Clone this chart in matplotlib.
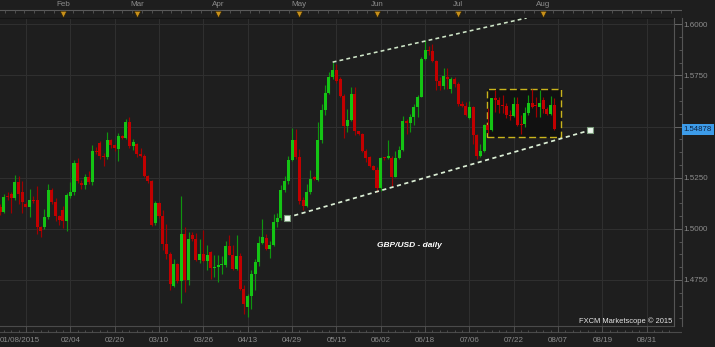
import matplotlib.pyplot as plt
from matplotlib.patches import Rectangle
from matplotlib.ticker import MultipleLocator
from matplotlib.transforms import blended_transform_factory
import numpy as np

plt.rcParams['font.family'] = ['Liberation Sans', 'DejaVu Sans']

# GBP/USD daily candles, one entry per trading day from 01/08/2015
opens = [1.5106, 1.5081, 1.5160, 1.5170, 1.5151, 1.5227, 1.5178, 1.5120, 1.5109, 1.5141,
         1.5141, 1.5008, 1.5008, 1.5057, 1.5192, 1.5130, 1.5062, 1.5094, 1.5036, 1.5162,
         1.5179, 1.5321, 1.5222, 1.5213, 1.5255, 1.5227, 1.5380, 1.5420, 1.5357, 1.5349,
         1.5433, 1.5409, 1.5390, 1.5455, 1.5446, 1.5523, 1.5403, 1.5414, 1.5365, 1.5354,
         1.5260, 1.5235, 1.5028, 1.5125, 1.5065, 1.4927, 1.4878, 1.4721, 1.4826, 1.4745,
         1.4976, 1.4748, 1.4968, 1.4948, 1.4846, 1.4878, 1.4843, 1.4886, 1.4808, 1.4813,
         1.4821, 1.4821, 1.4916, 1.4873, 1.4804, 1.4867, 1.4708, 1.4619, 1.4672, 1.4778,
         1.4838, 1.4930, 1.4955, 1.4903, 1.4923, 1.5033, 1.5052, 1.5188, 1.5236, 1.5338,
         1.5432, 1.5351, 1.5143, 1.5114, 1.5179, 1.5253, 1.5240, 1.5435, 1.5582, 1.5664,
         1.5742, 1.5775, 1.5734, 1.5649, 1.5505, 1.5533, 1.5660, 1.5476, 1.5464, 1.5382,
         1.5350, 1.5306, 1.5289, 1.5199, 1.5348, 1.5345, 1.5345, 1.5255, 1.5345, 1.5386,
         1.5529, 1.5516, 1.5549, 1.5598, 1.5647, 1.5832, 1.5873, 1.5868, 1.5820, 1.5725,
         1.5698, 1.5744, 1.5685, 1.5734, 1.5709, 1.5611, 1.5603, 1.5542, 1.5598, 1.5459,
         1.5358, 1.5379, 1.5510, 1.5482, 1.5638, 1.5630, 1.5605, 1.5600, 1.5556, 1.5551,
         1.5610, 1.5515, 1.5515, 1.5564, 1.5617, 1.5605, 1.5597, 1.5630, 1.5584, 1.5561,
         1.5605]
highs = [1.5120, 1.5170, 1.5180, 1.5180, 1.5265, 1.5260, 1.5232, 1.5130, 1.5195, 1.5160,
         1.5211, 1.5015, 1.5097, 1.5219, 1.5200, 1.5150, 1.5070, 1.5110, 1.5175, 1.5230,
         1.5335, 1.5345, 1.5240, 1.5270, 1.5284, 1.5411, 1.5400, 1.5430, 1.5370, 1.5474,
         1.5440, 1.5415, 1.5470, 1.5460, 1.5536, 1.5547, 1.5440, 1.5420, 1.5394, 1.5365,
         1.5265, 1.5240, 1.5135, 1.5130, 1.5093, 1.5024, 1.4885, 1.4851, 1.4835, 1.5162,
         1.5008, 1.4984, 1.4987, 1.4981, 1.4951, 1.4992, 1.4919, 1.4894, 1.4870, 1.4870,
         1.4865, 1.4943, 1.4968, 1.4919, 1.4968, 1.4881, 1.4724, 1.4683, 1.4800, 1.4851,
         1.4966, 1.5049, 1.4975, 1.4943, 1.5073, 1.5077, 1.5212, 1.5256, 1.5354, 1.5494,
         1.5489, 1.5391, 1.5155, 1.5220, 1.5289, 1.5260, 1.5522, 1.5611, 1.5701, 1.5766,
         1.5815, 1.5807, 1.5742, 1.5660, 1.5587, 1.5693, 1.5693, 1.5480, 1.5470, 1.5391,
         1.5358, 1.5314, 1.5301, 1.5350, 1.5352, 1.5435, 1.5358, 1.5382, 1.5407, 1.5554,
         1.5538, 1.5562, 1.5608, 1.5655, 1.5840, 1.5922, 1.5892, 1.5905, 1.5827, 1.5740,
         1.5788, 1.5788, 1.5742, 1.5742, 1.5717, 1.5627, 1.5619, 1.5627, 1.5603, 1.5464,
         1.5415, 1.5513, 1.5589, 1.5640, 1.5678, 1.5646, 1.5654, 1.5613, 1.5581, 1.5646,
         1.5646, 1.5556, 1.5597, 1.5654, 1.5686, 1.5646, 1.5678, 1.5646, 1.5597, 1.5649,
         1.5638]
lows = [1.5070, 1.5076, 1.5140, 1.5076, 1.5141, 1.5120, 1.5076, 1.5105, 1.5057, 1.5125,
        1.4976, 1.4962, 1.4998, 1.5049, 1.5120, 1.5036, 1.5020, 1.5005, 1.4990, 1.5150,
        1.5165, 1.5222, 1.5195, 1.5195, 1.5220, 1.5215, 1.5365, 1.5340, 1.5308, 1.5340,
        1.5395, 1.5380, 1.5333, 1.5440, 1.5440, 1.5395, 1.5385, 1.5350, 1.5349, 1.5255,
        1.5222, 1.5015, 1.5020, 1.5055, 1.4898, 1.4854, 1.4703, 1.4715, 1.4735, 1.4638,
        1.4692, 1.4724, 1.4940, 1.4845, 1.4833, 1.4840, 1.4800, 1.4756, 1.4765, 1.4740,
        1.4778, 1.4813, 1.4870, 1.4800, 1.4800, 1.4703, 1.4586, 1.4570, 1.4606, 1.4700,
        1.4820, 1.4927, 1.4895, 1.4857, 1.4915, 1.5008, 1.5044, 1.5180, 1.5220, 1.5334,
        1.5340, 1.5122, 1.5093, 1.5106, 1.5170, 1.5238, 1.5236, 1.5420, 1.5555, 1.5660,
        1.5735, 1.5715, 1.5644, 1.5445, 1.5473, 1.5527, 1.5457, 1.5460, 1.5375, 1.5328,
        1.5302, 1.5286, 1.5178, 1.5183, 1.5335, 1.5342, 1.5203, 1.5252, 1.5342, 1.5380,
        1.5464, 1.5474, 1.5510, 1.5546, 1.5644, 1.5824, 1.5850, 1.5815, 1.5680, 1.5680,
        1.5685, 1.5685, 1.5665, 1.5692, 1.5603, 1.5598, 1.5554, 1.5537, 1.5415, 1.5341,
        1.5350, 1.5374, 1.5466, 1.5480, 1.5573, 1.5564, 1.5564, 1.5540, 1.5532, 1.5548,
        1.5505, 1.5466, 1.5499, 1.5556, 1.5589, 1.5548, 1.5548, 1.5564, 1.5556, 1.5556,
        1.5485]
closes = [1.5081, 1.5157, 1.5155, 1.5151, 1.5227, 1.5170, 1.5130, 1.5109, 1.5141, 1.5138,
          1.5008, 1.4989, 1.5057, 1.5192, 1.5130, 1.5062, 1.5045, 1.5036, 1.5166, 1.5179,
          1.5321, 1.5232, 1.5213, 1.5255, 1.5227, 1.5380, 1.5376, 1.5357, 1.5349, 1.5433,
          1.5409, 1.5394, 1.5455, 1.5446, 1.5523, 1.5403, 1.5425, 1.5365, 1.5354, 1.5260,
          1.5235, 1.5021, 1.5125, 1.5065, 1.4927, 1.4878, 1.4729, 1.4826, 1.4745, 1.4976,
          1.4748, 1.4951, 1.4948, 1.4846, 1.4878, 1.4843, 1.4870, 1.4810, 1.4813, 1.4821,
          1.4826, 1.4916, 1.4873, 1.4804, 1.4867, 1.4708, 1.4631, 1.4674, 1.4778, 1.4838,
          1.4930, 1.4958, 1.4903, 1.4922, 1.5033, 1.5052, 1.5188, 1.5236, 1.5338, 1.5432,
          1.5351, 1.5134, 1.5114, 1.5179, 1.5245, 1.5245, 1.5435, 1.5582, 1.5664, 1.5742,
          1.5775, 1.5722, 1.5649, 1.5505, 1.5533, 1.5660, 1.5476, 1.5465, 1.5382, 1.5345,
          1.5306, 1.5289, 1.5199, 1.5345, 1.5345, 1.5358, 1.5255, 1.5345, 1.5386, 1.5529,
          1.5516, 1.5549, 1.5598, 1.5647, 1.5832, 1.5873, 1.5868, 1.5820, 1.5725, 1.5698,
          1.5747, 1.5731, 1.5734, 1.5709, 1.5608, 1.5603, 1.5559, 1.5598, 1.5459, 1.5358,
          1.5379, 1.5510, 1.5485, 1.5638, 1.5630, 1.5605, 1.5600, 1.5556, 1.5551, 1.5610,
          1.5507, 1.5507, 1.5564, 1.5617, 1.5597, 1.5600, 1.5617, 1.5584, 1.5561, 1.5605,
          1.54878]
last_price = 1.54878

first_date = '01/08/2015'
date_labels = ['02/04', '02/20', '03/10', '03/26', '04/13', '04/29', '05/15',
               '06/02', '06/18', '07/06', '07/22', '08/07', '08/19', '08/31']
date_idx = [19, 31, 43, 55, 67, 79, 91, 103, 115, 127, 139, 151, 163, 175]
month_labels = ['Feb', 'Mar', 'Apr', 'May', 'Jun', 'Jul', 'Aug']
month_idx = [17, 37, 59, 81, 102, 124, 147]
price_ticks = [1.475, 1.500, 1.525, 1.550, 1.575, 1.600]
price_labels = ['1.4750', '1.5000', '1.5250', '', '1.5750', '1.6000']

# drawings: (bar index, price)
upper_x = [90, 142.5]
upper_y = [1.5815, 1.6031]
lower_x = [77.6, 159.6]
lower_y = [1.5055, 1.5482]
box_x = [131.8, 151.7]
box_y = [1.5448, 1.5682]

# layout in pixels
W, H = 715, 347
px_bar = 3.695
x0 = -0.03
plot_r, col_r = 674, 682
plot_t, plot_b = 17.5, 326
bg = '#1e1e1e'
gray = '#8c8c8c'


def px_to_price(y):
    return 1.6 - (y - 24.3) / 2045.6


fig = plt.figure(figsize=(W / 100, H / 100), dpi=100, facecolor=bg)

ax = fig.add_axes([0, 1 - plot_b / H, plot_r / W, (plot_b - plot_t) / H])
ax.set_facecolor(bg)
ax.set_xlim(x0, x0 + plot_r / px_bar)
ax.set_ylim(px_to_price(plot_b), px_to_price(plot_t))
ax.set_xticks([7] + date_idx)
ax.set_yticks(price_ticks)
ax.grid(color='#2f2f2f', lw=0.8)
ax.tick_params(length=0, labelbottom=False, labelleft=False)
for s in ['left', 'right']:
    ax.spines[s].set_visible(False)
ax.spines['top'].set_color('#151515')
ax.spines['bottom'].set_color('#4a4a4a')
ax.spines['bottom'].set_linewidth(0.8)

# consolidation box
ax.add_patch(Rectangle((box_x[0], box_y[0]), box_x[1] - box_x[0], box_y[1] - box_y[0],
                       fc='#111111', ec='#c9b41c', lw=1.0, ls=(0, (5, 2.5)), zorder=2))

# candles
o = np.array(opens)
c = np.array(closes)
idx = np.arange(len(o))
up = c >= o
body_col = np.where(up, '#14c414', '#c20000')
wick_col = np.where(up, '#0f950f', '#a00000')
ax.vlines(idx, lows, highs, colors=wick_col, lw=0.85, zorder=3)
ax.bar(idx, np.maximum(np.abs(c - o), 0.0005), bottom=np.minimum(o, c), width=0.82,
       color=body_col, lw=0, zorder=4)

# trend lines
ax.plot(upper_x, upper_y, color='#cfe6c8', lw=1.15, ls=(0, (2.4, 2.0)), zorder=5)
ax.plot(lower_x, lower_y, color='#dcefd6', lw=1.25, ls=(0, (2.4, 2.0)), zorder=5)
ax.plot(lower_x, lower_y, ls='none', marker='s', ms=4, mfc='#eef8ee', mec='#7a9a7a',
        mew=0.8, zorder=6)

ax.text(377 / plot_r, (plot_b - 245) / (plot_b - plot_t), 'GBP/USD - daily', transform=ax.transAxes,
        color='white', fontsize=6, fontweight='bold', fontstyle='italic', ha='left', va='center')
ax.text(0.998, 0.017, 'FXCM Marketscope \u00a9 2015', transform=ax.transAxes,
        color='#e6e6e6', fontsize=5.4, ha='right', va='center')

# price column on the right
rax = fig.add_axes([plot_r / W, 1 - plot_b / H, (col_r - plot_r) / W, (plot_b - plot_t) / H])
rax.set_facecolor(bg)
rax.set_ylim(ax.get_ylim())
rax.set_xticks([])
rax.yaxis.tick_right()
rax.set_yticks(price_ticks)
rax.set_yticklabels(price_labels)
rax.yaxis.set_minor_locator(MultipleLocator(0.00625))
rax.tick_params(axis='y', which='major', direction='in', length=5.8, width=0.7, color='#666666',
                labelcolor=gray, labelsize=5.8, pad=1.2)
rax.tick_params(axis='y', which='minor', direction='in', length=2.4, width=0.7, color='#555555')
for s in ['top', 'bottom']:
    rax.spines[s].set_visible(False)
for s in ['left', 'right']:
    rax.spines[s].set_color('#555555')
    rax.spines[s].set_linewidth(0.8)
tr = blended_transform_factory(rax.transAxes, rax.transData)
rax.text(1.2, last_price, '1.54878', transform=tr, color='#0f2240', fontsize=5.6,
         ha='left', va='center',
         bbox=dict(boxstyle='square,pad=0.25', fc='#3d9ce9', ec='none'))

# month strip on top
tax = fig.add_axes([0, 1 - plot_t / H, col_r / W, plot_t / H])
tax.set_facecolor(bg)
tax.set_xlim(x0, x0 + col_r / px_bar)
tax.set_ylim(plot_t, 0)
tax.axis('off')
tax.axhline(10, color='#5a5a5a', lw=0.8)
tax.vlines(np.arange(1.3, 183, 2.65), 10, 12.5, color='#555555', lw=0.6)
tax.vlines([col_r / px_bar + x0 - 0.1], 10, plot_t, color='#555555', lw=0.8)
tax.scatter(month_idx, [13.6] * len(month_idx), marker='v', s=22, c='#c8901a',
            edgecolors='#2a1e00', linewidths=0.4, zorder=3)
for lab, i in zip(month_labels, month_idx):
    tax.text(i, 5, lab, color=gray, fontsize=5.8, ha='center', va='center')

# date strip at the bottom
bax = fig.add_axes([0, 0, col_r / W, (H - plot_b) / H])
bax.set_facecolor(bg)
bax.set_xlim(x0, x0 + col_r / px_bar)
bax.set_ylim(H, plot_b)
bax.axis('off')
bax.axhline(332, xmax=1, color='#4a4a4a', lw=0.8)
bax.vlines(np.arange(1, 183, 2), 329.5, 332, color='#555555', lw=0.6)
bax.vlines([7] + date_idx, 326, 332, color='#555555', lw=0.6)
bax.text(0, 340, first_date, color=gray, fontsize=5.8, ha='left', va='center')
for lab, i in zip(date_labels, date_idx):
    bax.text(i, 340, lab, color=gray, fontsize=5.8, ha='center', va='center')

fig.savefig('out.png', dpi=100, facecolor=bg)
